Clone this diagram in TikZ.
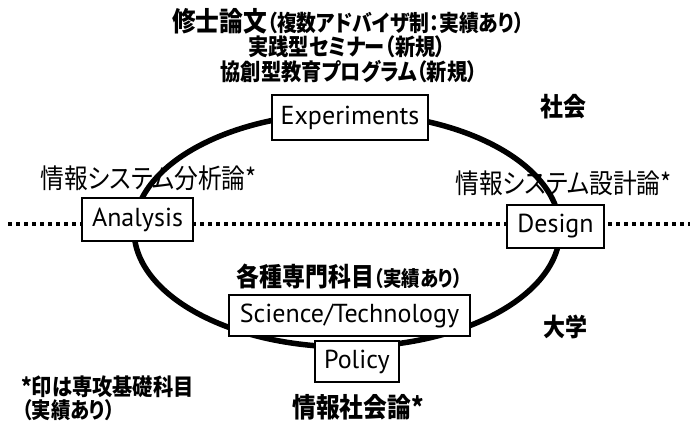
\documentclass[tikz,border=0pt]{standalone}
\usepackage{fontspec}
\setmainfont{PT Sans}
\newfontfamily\jp[RawFeature=+palt, FakeStretch=0.88]{Noto Sans CJK JP}
\newcommand\fsz[1]{\fontsize{#1}{#1}\selectfont}
\begin{document}
\begin{tikzpicture}[x=1pt,y=-1pt,
  box/.style={draw, line width=2.5pt, fill=white, inner sep=0pt, font=\fsz{26}},
  jpb/.style={font=\jp\bfseries, inner sep=0pt},
  jpr/.style={font=\jp, inner sep=0pt},
  ring/.style={line width=5.5pt},
  dotline/.style={line width=4pt, dash pattern=on 4pt off 4pt}]
\useasboundingbox[fill=white] (0,0) rectangle (692,421);
% cycle
\draw[ring] (347,230) ellipse [x radius=213pt, y radius=117pt];
% boundary between society and university
\coordinate (dl) at (8,224);
\coordinate (dr) at (690,224);
\draw[dotline] (dl) -- (dr);
% boxes
\node[box, minimum width=156pt, minimum height=45pt] (exp) at (350,117.5) {Experiments};
\node[box, minimum width=111pt, minimum height=43pt] (ana) at (137.5,219.5) {Analysis};
\node[box, minimum width=97pt, minimum height=43pt] (des) at (555.5,226.5) {Design};
\node[box, minimum width=241pt, minimum height=41pt] (sci) at (349.5,315.5) {Science/Technology};
\node[box, minimum width=84pt, minimum height=41pt] (pol) at (357,361.5) {Policy};
% labels
\node[jpb] (t1) at (348,21) {{\fsz{27}修士論文}{\fsz{22.5}（複数アドバイザ制：実績あり）}};
\node[jpb] (t2) at (347,47) {\fsz{23}実践型セミナー（新規）};
\node[jpb] (t3) at (349,72) {\fsz{23}協創型教育プログラム（新規）};
\node[jpb] (shakai) at (563,107) {\fsz{26}社会};
\node[jpr] (lana) at (148.5,178) {\fsz{27}情報システム分析論*};
\node[jpr] (ldes) at (563.5,183) {\fsz{27}情報システム設計論*};
\node[jpb] (lsci) at (349.5,276) {{\fsz{26}各種専門科目}{\fsz{21}（実績あり）}};
\node[jpb] (daigaku) at (565,327) {\fsz{25}大学};
\node[jpb, anchor=west] (n1) at (21,387) {\fsz{23}*印は専攻基礎科目};
\node[jpb, anchor=west] (n2) at (22,410) {\fsz{22}（実績あり）};
\node[jpb] (lpol) at (358,407) {\fsz{27}情報社会論*};
\end{tikzpicture}
\end{document}
